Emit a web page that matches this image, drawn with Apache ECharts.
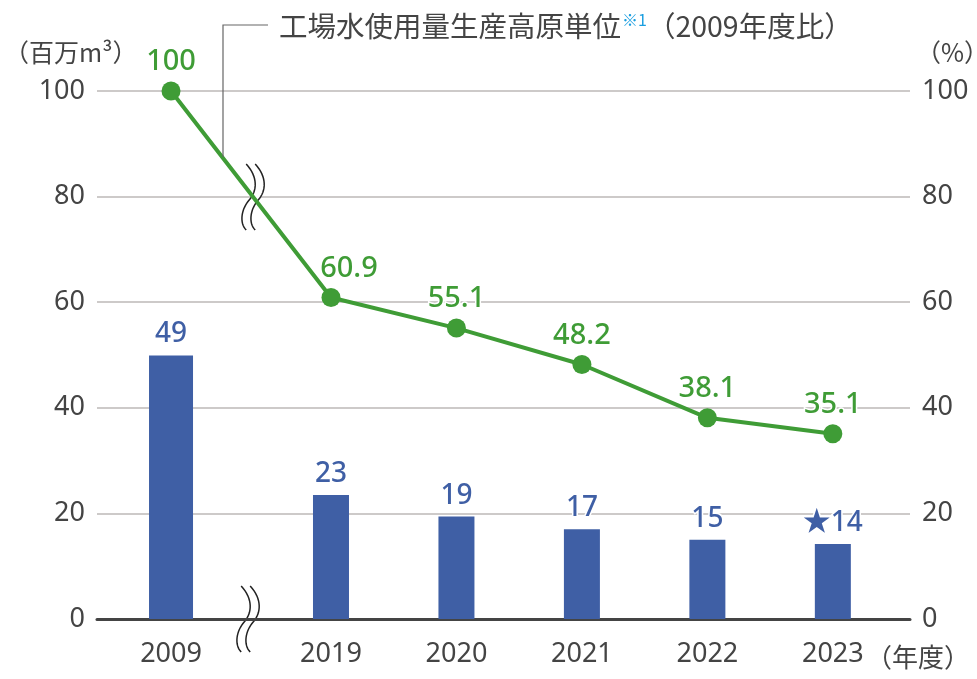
<!DOCTYPE html>
<html>
<head>
<meta charset="utf-8">
<title>工場水使用量</title>
<script src="https://cdn.jsdelivr.net/npm/echarts@6/dist/echarts.min.js"></script>
<style>
    html, body { margin: 0; padding: 0; background: #fff; }
    #chart { width: 977px; height: 679px; }
</style>
</head>
<body>
<div id="chart"></div>
<script>
var years = ['2009', '2019', '2020', '2021', '2022', '2023'];
var waterUse = [49.9, 23.5, 19.4, 17.0, 15.0, 14.2];      // 百万m³ (bar heights)
var waterLabels = ['49', '23', '19', '17', '15', '★14'];
var intensity = [100, 60.9, 55.1, 48.2, 38.1, 35.1];       // % (2009年度比)
var yTicks = [0, 20, 40, 60, 80, 100];

var BLUE = '#3f5fa5';
var GREEN = '#3f9c36';
var TEXT = '#444';
var NUM_FONT = "'Noto Sans', 'Noto Sans CJK JP', sans-serif";
var JP_FONT = "'Noto Sans CJK JP', sans-serif";

// 2009 sits further left, the axis is broken between 2009 and 2019
var GAP_2009 = 1.275;
var BREAK_AT = -0.66;
var slots = years.map(function (y, i) { return i === 0 ? -GAP_2009 : i - 1; });

var chart = echarts.init(document.getElementById('chart'));

function nearestYear(v) {
    var best = 0;
    slots.forEach(function (s, i) {
        if (Math.abs(s - v) < Math.abs(slots[best] - v)) best = i;
    });
    return years[best];
}

var yMin = yTicks[0], yMax = yTicks[yTicks.length - 1], yStep = yTicks[1] - yTicks[0];

var option = {
    animation: false,
    grid: { left: 97, right: 67, top: 91, bottom: 60 },
    xAxis: {
        type: 'value',
        min: -1.865,
        max: 4.615,
        axisLine: { show: true, onZero: false, lineStyle: { color: '#444', width: 3 } },
        axisTick: { show: false },
        splitLine: { show: false },
        axisLabel: {
            customValues: slots,
            formatter: function (v) { return nearestYear(v); },
            color: TEXT,
            fontFamily: NUM_FONT,
            fontSize: 27,
            margin: 22
        }
    },
    yAxis: [
        {
            type: 'value',
            min: yMin, max: yMax, interval: yStep,
            axisLine: { show: false },
            axisTick: { show: false },
            axisLabel: { color: TEXT, fontFamily: NUM_FONT, fontSize: 27, margin: 12 },
            splitLine: { lineStyle: { color: '#bdb9b7', width: 1.5 } }
        },
        {
            type: 'value',
            min: yMin, max: yMax, interval: yStep,
            position: 'right',
            axisLine: { show: false },
            axisTick: { show: false },
            axisLabel: { color: TEXT, fontFamily: NUM_FONT, fontSize: 27, margin: 12 },
            splitLine: { show: false }
        }
    ],
    series: [
        {
            // bars drawn as custom rects: the 2009 bar is wider than the others
            type: 'custom',
            yAxisIndex: 0,
            z: 2,
            data: slots.map(function (s, i) { return [s, waterUse[i]]; }),
            encode: { x: 0, y: 1 },
            renderItem: function (params, api) {
                var i = params.dataIndex;
                var top = api.coord([api.value(0), api.value(1)]);
                var base = api.coord([api.value(0), 0]);
                var w = i === 0 ? 44 : 36;
                return {
                    type: 'rect',
                    shape: { x: top[0] - w / 2, y: top[1], width: w, height: base[1] - top[1] },
                    style: { fill: BLUE },
                    textContent: {
                        style: {
                            text: waterLabels[i],
                            fill: BLUE,
                            fontFamily: NUM_FONT,
                            fontSize: 28,
                            fontWeight: 500,
                            stroke: '#fff',
                            lineWidth: 3
                        }
                    },
                    textConfig: { position: 'top', distance: 7 }
                };
            }
        },
        {
            type: 'line',
            yAxisIndex: 1,
            z: 3,
            data: slots.map(function (s, i) {
                var item = { value: [s, intensity[i]] };
                // the 2019 label is nudged right, clear of the falling segment
                if (i === 1) item.label = { offset: [18, 0] };
                return item;
            }),
            symbol: 'circle',
            symbolSize: 19,
            lineStyle: { color: GREEN, width: 4 },
            itemStyle: { color: GREEN },
            label: {
                show: true,
                position: 'top',
                distance: 5,
                color: GREEN,
                fontFamily: NUM_FONT,
                fontSize: 29,
                fontWeight: 500,
                textBorderColor: '#fff',
                textBorderWidth: 3
            }
        }
    ]
};
chart.setOption(option);

// wavy break mark: two parallel S curves with white between
var sCurve = [
    [[-3, -33], [9, -20], [8, -6], [0, 3]],
    [[0, 3], [-8, 12], [-10, 26], [-3, 33]]
];
function bez(seg, t, k) {
    var u = 1 - t;
    return u * u * u * seg[0][k] + 3 * u * u * t * seg[1][k] + 3 * u * t * t * seg[2][k] + t * t * t * seg[3][k];
}
function curvePoints(cx, cy, dx) {
    var pts = [];
    sCurve.forEach(function (seg, n) {
        for (var j = n ? 1 : 0; j <= 16; j++) {
            var t = j / 16;
            pts.push([cx + dx + bez(seg, t, 0), cy + bez(seg, t, 1)]);
        }
    });
    return pts;
}
function breakMark(p) {
    var left = curvePoints(p[0], p[1], -4);
    var right = curvePoints(p[0], p[1], 5);
    return {
        type: 'group',
        z: 100,
        children: [
            { type: 'polygon', shape: { points: left.concat(right.slice().reverse()) }, style: { fill: '#fff' } },
            { type: 'polyline', shape: { points: left }, style: { stroke: '#222', lineWidth: 1.5, fill: null } },
            { type: 'polyline', shape: { points: right }, style: { stroke: '#222', lineWidth: 1.5, fill: null } }
        ]
    };
}

var axisBreak = chart.convertToPixel({ xAxisIndex: 0, yAxisIndex: 0 }, [BREAK_AT, 0]);
var lineAt = BREAK_AT + 0.04;
var frac = (lineAt - slots[0]) / (slots[1] - slots[0]);
var lineBreakVal = intensity[0] + (intensity[1] - intensity[0]) * frac;
var lineBreak = chart.convertToPixel({ xAxisIndex: 0, yAxisIndex: 1 }, [lineAt, lineBreakVal]);

chart.setOption({
    graphic: [
        breakMark(axisBreak),
        breakMark(lineBreak),
        {
            type: 'polyline',
            z: 90,
            shape: { points: [[268, 25], [223, 25], [223, 157]] },
            style: { stroke: '#666', lineWidth: 1.2, fill: null }
        },
        {
            type: 'text',
            x: 279, y: 26,
            style: {
                text: '{t|工場水使用量生産高原単位}{s|※1}{t|（2009年度比）}',
                verticalAlign: 'middle',
                rich: {
                    t: { fontFamily: JP_FONT, fontSize: 28.5, fill: TEXT },
                    s: { fontFamily: JP_FONT, fontSize: 16, fill: '#1a9ee0', verticalAlign: 'top', padding: [0, 0, 0, 1] }
                }
            }
        },
        {
            type: 'text',
            x: 4, y: 52,
            style: { text: '（百万m³）', fontFamily: JP_FONT, fontSize: 25, fill: TEXT, verticalAlign: 'middle' }
        },
        {
            type: 'text',
            x: 916, y: 52,
            style: { text: '（%）', fontFamily: JP_FONT, fontSize: 25, fill: TEXT, verticalAlign: 'middle' }
        },
        {
            type: 'text',
            x: 866, y: 657,
            style: { text: '（年度）', fontFamily: JP_FONT, fontSize: 26, fill: TEXT, verticalAlign: 'middle' }
        }
    ]
});
</script>
</body>
</html>
